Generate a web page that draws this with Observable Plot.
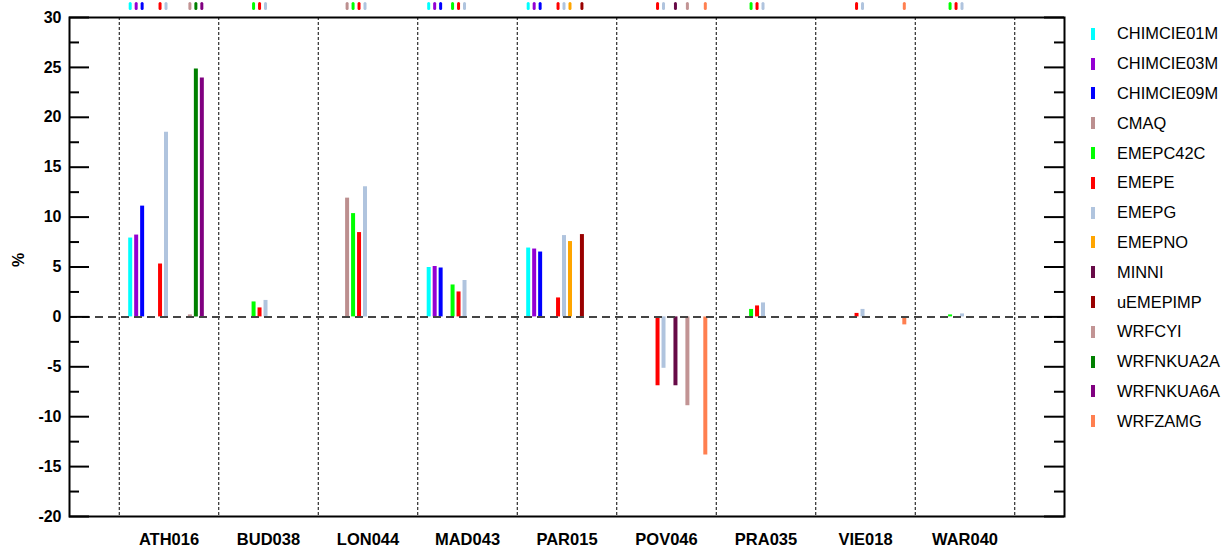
<!DOCTYPE html>
<html>
<head>
<meta charset="utf-8">
<script src="https://cdn.jsdelivr.net/npm/d3@7"></script>
<script src="https://cdn.jsdelivr.net/npm/@observablehq/plot@0.6"></script>
<style>
  body { margin: 0; background: #fff; font-family: "Liberation Sans", Arial, sans-serif; }
  #wrap { position: relative; width: 1222px; height: 552px; }
  #legend { position: absolute; left: 1091px; top: 19px; }
  .row { height: 29.8px; display: flex; align-items: center; font-size: 16.4px; color: #000; }
  .sw { width: 4px; height: 12px; margin-right: 22px; }
</style>
</head>
<body>
<div id="wrap"><div id="legend"></div></div>
<script>
const stations = ["ATH016","BUD038","LON044","MAD043","PAR015","POV046","PRA035","VIE018","WAR040"];
const models = ["CHIMCIE01M","CHIMCIE03M","CHIMCIE09M","CMAQ","EMEPC42C","EMEPE","EMEPG","EMEPNO","MINNI","uEMEPIMP","WRFCYI","WRFNKUA2A","WRFNKUA6A","WRFZAMG"];
const colors = ["#00ffff","#9400d3","#0000ff","#bc8f8f","#00ff00","#ff0000","#b0c4de","#ffa500","#670a47","#990000","#c29494","#008000","#800080","#ff7f50"];

// values per model, one entry per station (null = no data)
const CHIMCIE01M = [7.9, null, null, 4.95, 6.9, null, null, null, null];
const CHIMCIE03M = [8.2, null, null, 5.05, 6.8, null, null, null, null];
const CHIMCIE09M = [11.1, null, null, 4.9, 6.5, null, null, null, null];
const CMAQ       = [null, null, 11.9, null, null, null, null, null, null];
const EMEPC42C   = [null, 1.5, 10.35, 3.2, null, null, 0.75, null, 0.2];
const EMEPE      = [5.3, 0.9, 8.45, 2.5, 1.9, -6.9, 1.1, 0.35, 0.0];
const EMEPG      = [18.5, 1.65, 13.05, 3.65, 8.15, -5.15, 1.4, 0.75, 0.3];
const EMEPNO     = [null, null, null, null, 7.55, null, null, null, null];
const MINNI      = [null, null, null, null, null, -6.9, null, null, null];
const uEMEPIMP   = [null, null, null, null, 8.25, null, null, null, null];
const WRFCYI     = [0.2, null, null, null, null, -8.9, null, null, null];
const WRFNKUA2A  = [24.85, null, null, null, null, null, null, null, null];
const WRFNKUA6A  = [23.95, null, null, null, null, null, null, null, null];
const WRFZAMG    = [null, null, null, null, null, -13.85, null, -0.8, null];

const series = [CHIMCIE01M, CHIMCIE03M, CHIMCIE09M, CMAQ, EMEPC42C, EMEPE, EMEPG, EMEPNO, MINNI, uEMEPIMP, WRFCYI, WRFNKUA2A, WRFNKUA6A, WRFZAMG];
const yMajor = [-20,-15,-10,-5,0,5,10,15,20,25,30];
const yMinor = [-17.5,-12.5,-7.5,-2.5,2.5,7.5,12.5,17.5,22.5,27.5];
const yLabel = "%";

const slot = 0.06; // spacing of models within a station group
const bars = [];
series.forEach((vals, k) => vals.forEach((v, i) => {
  if (v !== null) bars.push({station: stations[i], model: models[k], value: v, pos: i + (k - 6.5) * slot});
}));
const boundaries = d3.range(stations.length + 1).map(i => i - 0.5);

const W = 1222, H = 552, mL = 69, mR = 158, mT = 17, mB = 36;
const pw = W - mL - mR, ph = H - mT - mB;

const chart = Plot.plot({
  width: W, height: H,
  marginLeft: mL, marginRight: mR, marginTop: mT, marginBottom: mB,
  style: {fontFamily: "'Liberation Sans', Arial, sans-serif", fontSize: "14px", background: "#fff", overflow: "visible"},
  x: {domain: [-1, stations.length], axis: null},
  y: {domain: [-20, 30], axis: null},
  color: {domain: models, range: colors},
  marks: [
    Plot.ruleX(boundaries, {x: d => d, stroke: "#000", strokeWidth: 1, strokeDasharray: "3,2"}),
    Plot.ruleX(bars, {x: "pos", y1: 0, y2: "value", stroke: "model", strokeWidth: 4}),
    Plot.ruleX(bars, {x: "pos", stroke: "model", strokeWidth: 3, strokeLinecap: "round", insetTop: -(mT - 3.5), insetBottom: ph + mT - 8.5}),
    Plot.ruleY([0], {stroke: "#444", strokeWidth: 2, strokeDasharray: "8,5"}),
    Plot.ruleY(yMajor, {stroke: "#000", strokeWidth: 2, insetRight: pw - 20}),
    Plot.ruleY(yMinor, {stroke: "#000", strokeWidth: 2, insetRight: pw - 10}),
    Plot.ruleY(yMajor, {stroke: "#000", strokeWidth: 2, insetLeft: pw - 20}),
    Plot.ruleY(yMinor, {stroke: "#000", strokeWidth: 2, insetLeft: pw - 10}),
    Plot.axisY({ticks: yMajor, tickFormat: d => String(d), tickSize: 0, tickPadding: 8, fontWeight: "bold", fontSize: 16, label: null}),
    Plot.text([yLabel], {text: d => d, frameAnchor: "left", dx: -51, rotate: -90, fontWeight: "bold", fontSize: 16}),
    Plot.axisX({ticks: d3.range(stations.length), tickFormat: i => stations[i], tickSize: 0, tickPadding: 17,
      fontWeight: "bold", fontSize: 16.5, label: null}),
    Plot.frame({stroke: "#000", strokeWidth: 2})
  ]
});
document.getElementById("wrap").prepend(chart);

const legend = document.getElementById("legend");
models.forEach((m, k) => {
  const row = document.createElement("div");
  row.className = "row";
  row.innerHTML = `<span class="sw" style="background:${colors[k]}"></span><span>${m}</span>`;
  legend.appendChild(row);
});
</script>
</body>
</html>
